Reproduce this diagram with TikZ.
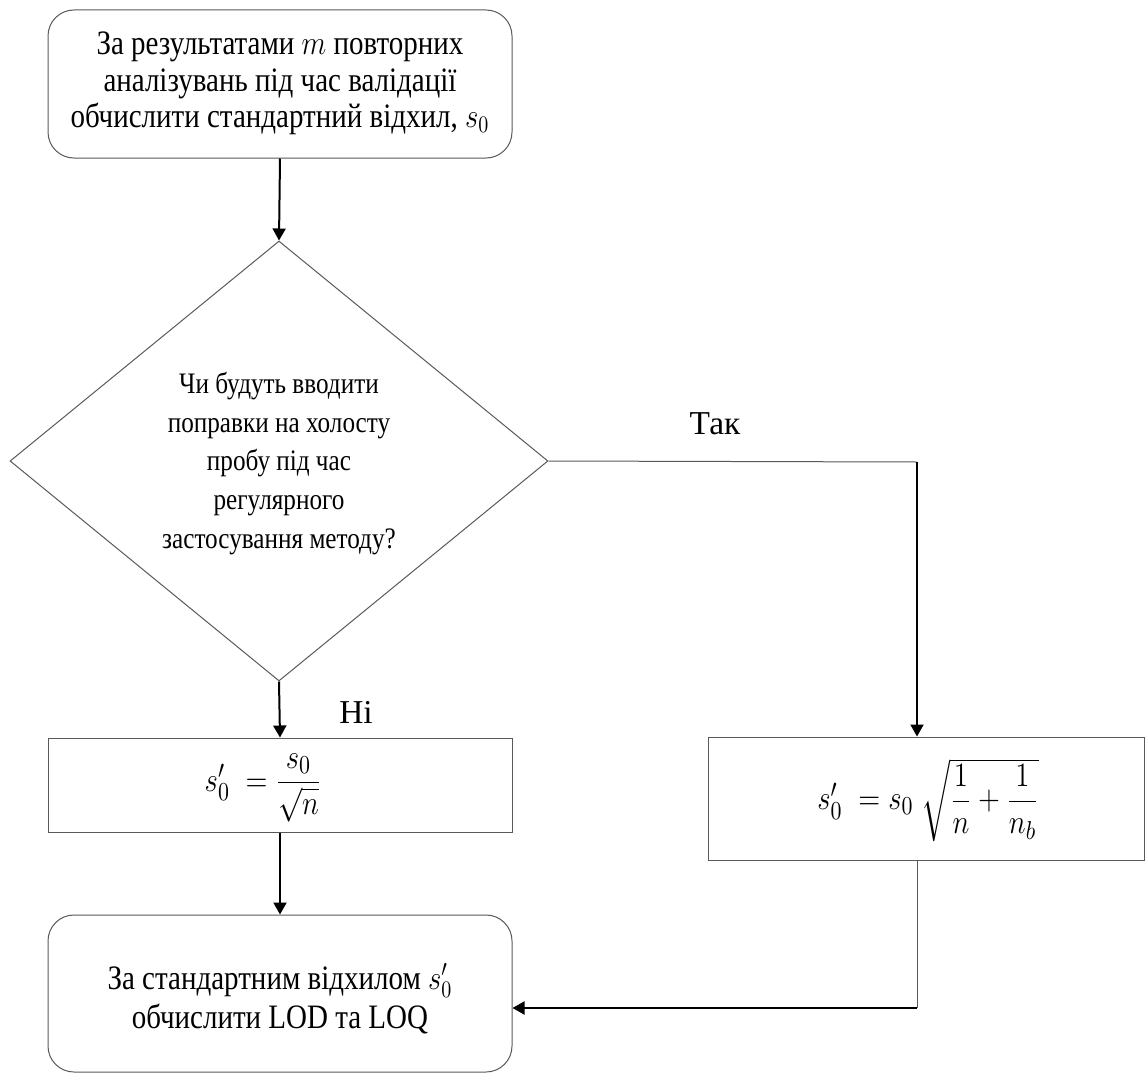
\documentclass[tikz,border=0pt]{standalone}
\usepackage{fontspec}
\setmainfont{Liberation Serif}
\usepackage{amsmath}
\usetikzlibrary{shapes.geometric,arrows.meta}
\newcommand{\vs}[1]{\scalebox{1}[1.18]{#1}}
\tikzset{
  boxline/.style={draw=black!65, line width=0.5pt},
  rbox/.style={boxline, rounded corners=13pt, minimum width=232pt, inner sep=0pt},
  pbox/.style={boxline, inner sep=0pt},
  txt/.style={inner sep=0pt},
  arr/.style={draw=black, line width=1pt, -{Triangle[length=6pt,width=6.5pt]}},
  thinline/.style={draw=black!65, line width=0.5pt},
  lbl/.style={font=\fontsize{16.7}{20}\selectfont, inner sep=0pt},
}
\begin{document}
\begin{tikzpicture}[x=0.5pt,y=-0.5pt]
\useasboundingbox (0,0) rectangle (1145,1086);
% boxes
\node[rbox, minimum height=74pt] (top) at (280,84) {};
\node[diamond, boxline, minimum width=269pt, minimum height=220pt, inner sep=0pt] (dia) at (279,461) {};
\node[pbox, minimum width=232pt, minimum height=47pt] (lbox) at (280,785) {};
\node[pbox, minimum width=218.25pt, minimum height=61.5pt] (rbox) at (926.25,798.5) {};
\node[rbox, minimum height=78.5pt] (bot) at (280,993.5) {};
% texts
\node[txt] (toptext) at (280,84)
  {\vs{\fontsize{14.5}{15.5}\selectfont\begin{tabular}{@{}c@{}}За результатами $m$ повторних\\ аналізувань під час валідації\\ обчислити стандартний відхил, $s_0$\end{tabular}}};
\node[txt] (dtext) at (279,463)
  {\vs{\fontsize{12.6}{16.4}\selectfont\begin{tabular}{@{}c@{}}Чи будуть вводити\\ поправки на холосту\\ пробу під час\\ регулярного\\ застосування методу?\end{tabular}}};
\node[txt] (ltext) at (263,788)
  {\vs{\fontsize{15.5}{18}\selectfont$s_0'\ =\dfrac{s_0}{\sqrt{n}}$}};
\node[txt] (rtext) at (928,800)
  {\vs{\fontsize{15.5}{18}\selectfont$s_0'\ = s_0\ \sqrt{\dfrac{1}{n}+\dfrac{1}{n_b}}$}};
\node[txt] (bottext) at (280,1001)
  {\vs{\fontsize{14.5}{16.5}\selectfont\begin{tabular}{@{}c@{}}За стандартним відхилом $s_0'$\\ обчислити LOD та LOQ\end{tabular}}};
\node[lbl] (yes) at (715,424) {Так};
\node[lbl] (no) at (356,712) {Ні};
% connectors
\draw[arr] (top.south) -- (dia.north);
\draw[arr] (dia.south) -- (lbox.north);
\draw[arr] (lbox.south) -- (bot.north);
\coordinate (c1) at (917,462);
\coordinate (c2) at (917,1008);
\draw[thinline] (dia.east) -- (c1);
\draw[arr] (c1) -- (c1 |- rbox.north);
\draw[thinline] (c2 |- rbox.south) -- (c2);
\draw[arr] (c2) -- (c2 -| bot.east);
\end{tikzpicture}
\end{document}
